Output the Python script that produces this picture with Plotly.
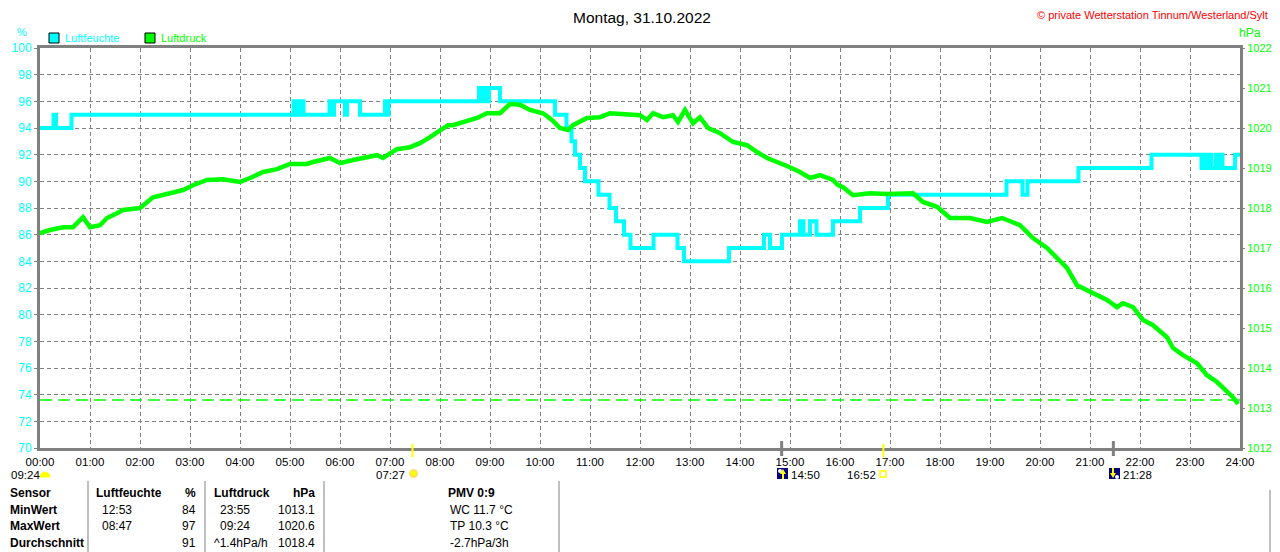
import plotly.graph_objects as go

# the page body keeps an 8px margin, so the figure is drawn 8px smaller and shifted
OFF = 8
W, H = 1280 - OFF, 552 - OFF

# humidity (%), step series: hour of change -> value
hum_t = [0.00, 0.27, 0.32, 0.63, 5.07, 5.12, 5.15, 5.20, 5.24, 5.27, 5.79, 5.84, 5.88,
         6.10, 6.14, 6.40, 6.90, 6.93, 6.97, 8.78, 8.82, 8.86, 8.94, 8.98, 9.20, 10.30,
         10.53, 10.63, 10.70, 10.80, 10.90, 11.17, 11.39, 11.52, 11.68, 11.81, 12.27,
         12.75, 12.88, 13.78, 14.48, 14.60, 14.84, 15.20, 15.27, 15.40, 15.53, 15.86,
         16.40, 16.96, 19.33, 19.65, 19.75, 20.77, 22.23, 23.23, 23.28, 23.32, 23.40,
         23.43, 23.52, 23.57, 23.62, 23.65, 23.90, 24.00]
hum_v = [94, 95, 94, 95, 96, 95, 96, 95, 96, 95, 96, 95, 96,
         95, 96, 95, 96, 95, 96, 97, 96, 97, 96, 97, 96, 95,
         94, 93, 92, 91, 90, 89, 88, 87, 86, 85, 86,
         85, 84, 85, 86, 85, 86, 87, 86, 87, 86, 87,
         88, 89, 90, 89, 90, 91, 92, 91, 92, 91, 92,
         91, 92, 91, 92, 91, 92, 92]

# pressure (hPa)
prs_t = [0.00, 0.20, 0.46, 0.66, 0.86, 1.00, 1.20, 1.34, 1.54, 1.66, 2.00, 2.26, 2.60,
         2.86, 3.06, 3.34, 3.66, 4.00, 4.20, 4.46, 4.74, 5.00, 5.34, 5.46, 5.80, 6.00,
         6.26, 6.74, 6.86, 7.14, 7.40, 7.60, 7.80, 8.00, 8.16, 8.26, 8.46, 8.74, 8.94,
         9.20, 9.40, 9.60, 9.80, 10.06, 10.24, 10.40, 10.56, 10.66, 10.94, 11.20, 11.40,
         11.74, 12.00, 12.14, 12.26, 12.46, 12.66, 12.76, 12.90, 13.06, 13.20, 13.36,
         13.60, 13.86, 14.14, 14.34, 14.54, 14.94, 15.20, 15.40, 15.60, 15.86, 15.96,
         16.06, 16.26, 16.60, 16.94, 17.46, 17.66, 17.94, 18.20, 18.60, 18.94, 19.24,
         19.60, 19.86, 20.14, 20.34, 20.54, 20.74, 21.06, 21.34, 21.54, 21.66, 21.86,
         22.06, 22.26, 22.54, 22.66, 22.86, 23.14, 23.34, 23.54, 23.70, 23.86, 23.96]
prs_v = [1017.37, 1017.45, 1017.52, 1017.52, 1017.77, 1017.52, 1017.57, 1017.75, 1017.87,
         1017.95, 1018.00, 1018.27, 1018.37, 1018.45, 1018.57, 1018.70, 1018.72, 1018.65,
         1018.75, 1018.90, 1018.97, 1019.10, 1019.10, 1019.15, 1019.25, 1019.12, 1019.20,
         1019.32, 1019.25, 1019.47, 1019.52, 1019.62, 1019.77, 1019.95, 1020.07, 1020.07,
         1020.15, 1020.25, 1020.37, 1020.37, 1020.60, 1020.58, 1020.45, 1020.37, 1020.20,
         1020.00, 1019.95, 1020.07, 1020.25, 1020.27, 1020.37, 1020.35, 1020.32, 1020.20,
         1020.37, 1020.27, 1020.32, 1020.15, 1020.45, 1020.12, 1020.27, 1020.00, 1019.87,
         1019.65, 1019.57, 1019.40, 1019.25, 1019.05, 1018.90, 1018.75, 1018.82, 1018.70,
         1018.57, 1018.52, 1018.32, 1018.37, 1018.35, 1018.37, 1018.15, 1018.03, 1017.75,
         1017.75, 1017.65, 1017.75, 1017.57, 1017.25, 1017.00, 1016.75, 1016.50, 1016.07,
         1015.87, 1015.70, 1015.52, 1015.62, 1015.52, 1015.20, 1015.07, 1014.77, 1014.50,
         1014.32, 1014.12, 1013.82, 1013.65, 1013.45, 1013.27, 1013.10]
prs_ref = [1013.2]

hours = list(range(25))
hour_labels = ["%02d:00" % h for h in hours]

sun_times = [7.45, 16.867]      # 07:27, 16:52
moon_times = [14.833, 21.467]   # 14:50, 21:28

table_rows = ["Sensor", "MinWert", "MaxWert", "Durchschnitt"]
hum_time = ["", "12:53", "08:47", ""]
hum_val = ["%", "84", "97", "91"]
prs_time = ["", "23:55", "09:24", "^1.4hPa/h"]
prs_val = ["hPa", "1013.1", "1020.6", "1018.4"]
extra = ["PMV 0:9", "WC 11.7 °C", "TP 10.3 °C", "-2.7hPa/3h"]

CYAN = "#00FFFF"
GREEN = "#00FF00"
GRAY = "#808080"
FONT = "Liberation Sans, Arial, sans-serif"


def px(x):
    return (x - OFF) / W


def py(y):
    return 1 - (y - OFF) / H


fig = go.Figure()
fig.add_trace(go.Scatter(x=hum_t, y=hum_v, mode="lines", line=dict(color=CYAN, width=4, shape="hv"),
                         yaxis="y", showlegend=False, hoverinfo="skip"))
fig.add_trace(go.Scatter(x=[0, 24], y=prs_ref * 2, mode="lines",
                         line=dict(color=GREEN, width=1.5, dash="12px,6px"),
                         yaxis="y2", showlegend=False, hoverinfo="skip"))
fig.add_trace(go.Scatter(x=prs_t, y=prs_v, mode="lines", line=dict(color=GREEN, width=4.5),
                         yaxis="y2", showlegend=False, hoverinfo="skip"))

shapes = []
anns = []

def text(x, y, s, color="black", size=12, anchor="left", bold=False):
    anns.append(dict(x=px(x), y=py(y), xref="paper", yref="paper", text=("<b>%s</b>" % s) if bold else s,
                     showarrow=False, xanchor=anchor, yanchor="middle",
                     font=dict(family=FONT, size=size, color=color)))

# header texts
text(642, 17, "Montag, 31.10.2022", size=15.5, anchor="center")
text(1270, 15, "© private Wetterstation Tinnum/Westerland/Sylt", color="#FF0000", size=11, anchor="right")
text(22, 32, "%", color=CYAN, size=11, anchor="center")
text(1250, 33, "hPa", color=GREEN, size=12, anchor="center")

# legend
for x0, col, lab in [(49, CYAN, "Luftfeuchte"), (145, GREEN, "Luftdruck")]:
    shapes.append(dict(type="rect", xref="paper", yref="paper", x0=px(x0), x1=px(x0 + 10),
                       y0=py(43), y1=py(33), fillcolor=col, line=dict(color="black", width=1)))
    text(x0 + 14, 38, lab, color=col, size=11)

# sun / moon ticks on time axis
for t in sun_times:
    shapes.append(dict(type="line", xref="x", yref="paper", x0=t, x1=t, y0=py(444), y1=py(457),
                       line=dict(color="#FFFF00", width=2)))
for t in moon_times:
    shapes.append(dict(type="line", xref="x", yref="paper", x0=t, x1=t, y0=py(441), y1=py(456),
                       line=dict(color=GRAY, width=3)))

SUB_Y = 475
# day length with half sun
text(9, SUB_Y, "09:24", size=11.5)
shapes.append(dict(type="path", xref="paper", yref="paper", fillcolor="#FFFF00", line=dict(color="#FFFF00", width=1),
                   path="M %f,%f C %f,%f %f,%f %f,%f Z" % (px(40), py(477), px(40), py(470.5),
                                                         px(50), py(470.5), px(50), py(477))))
# sunrise
text(407, SUB_Y, "07:27", size=11.5, anchor="right")
shapes.append(dict(type="circle", xref="paper", yref="paper", x0=px(410), x1=px(417), y0=py(477), y1=py(470),
                   fillcolor="#FFFF00", line=dict(color="#FFE060", width=2)))
# sunset
text(878, SUB_Y, "16:52", size=11.5, anchor="right")
shapes.append(dict(type="rect", xref="paper", yref="paper", x0=px(880), x1=px(886), y0=py(477), y1=py(471),
                   fillcolor="white", line=dict(color="#FFFF00", width=1.5)))
# moon rise / set
for x0, lab, up in [(777, "14:50", True), (1109, "21:28", False)]:
    shapes.append(dict(type="rect", xref="paper", yref="paper", x0=px(x0), x1=px(x0 + 11), y0=py(479), y1=py(468),
                       fillcolor="#000080", line=dict(width=0)))
    shapes.append(dict(type="circle", xref="paper", yref="paper",
                       x0=px(x0 + (1 if up else 6)), x1=px(x0 + (5 if up else 10)),
                       y0=py(473 if up else 479), y1=py(469 if up else 475),
                       fillcolor="white", line=dict(width=0)))
    ax = x0 + 6 if up else x0 + 4
    if up:
        p = "M %f,%f L %f,%f L %f,%f Z" % (px(ax - 3), py(474), px(ax + 3), py(474), px(ax), py(469))
        shapes.append(dict(type="line", xref="paper", yref="paper", x0=px(ax), x1=px(ax), y0=py(474), y1=py(479),
                           line=dict(color="#FFFF00", width=2)))
    else:
        p = "M %f,%f L %f,%f L %f,%f Z" % (px(ax - 3), py(473), px(ax + 3), py(473), px(ax), py(478))
        shapes.append(dict(type="line", xref="paper", yref="paper", x0=px(ax), x1=px(ax), y0=py(468), y1=py(473),
                           line=dict(color="#FFFF00", width=2)))
    shapes.append(dict(type="path", xref="paper", yref="paper", path=p, fillcolor="#FFFF00", line=dict(width=0)))
    text(x0 + 12, SUB_Y, lab, size=11.5)

# table
for xs in [88, 205, 324, 559]:
    shapes.append(dict(type="line", xref="paper", yref="paper", x0=px(xs), x1=px(xs), y0=py(481), y1=0,
                       line=dict(color=GRAY, width=1)))
shapes.append(dict(type="line", xref="paper", yref="paper", x0=px(1270), x1=px(1270), y0=py(490), y1=0,
                   line=dict(color=GRAY, width=1)))
row_y = [493, 510, 526, 543]
text(94, row_y[0], "Luftfeuchte", bold=True)
text(212, row_y[0], "Luftdruck", bold=True)
for i, yy in enumerate(row_y):
    text(8, yy, table_rows[i], bold=True)
    head = i == 0
    if hum_time[i]:
        text(212 if i == 3 else 100, yy, hum_time[i])
    text(198, yy, hum_val[i], anchor="right", bold=head)
    if prs_time[i]:
        text(212 if i == 3 else 218, yy, prs_time[i])
    text(317, yy, prs_val[i], anchor="right", bold=head)
    if head:
        text(472, yy, extra[i], anchor="center", bold=True)
    else:
        text(448, yy, extra[i])

fig.update_layout(
    width=W, height=H, margin=dict(l=0, r=0, t=0, b=0, autoexpand=False),
    paper_bgcolor="white", plot_bgcolor="white",
    font=dict(family=FONT, size=12, color="black"),
    shapes=shapes, annotations=anns,
    xaxis=dict(domain=[px(40), px(1240)], range=[0, 24], tickmode="array", tickvals=hours, ticktext=hour_labels,
               showgrid=True, gridcolor=GRAY, griddash="4px,3px", gridwidth=1, zeroline=False,
               showline=True, linecolor=GRAY, linewidth=3, mirror=True, ticks="", automargin=False,
               ticklabelstandoff=1, tickfont=dict(size=11.5, color="black"), fixedrange=True),
    yaxis=dict(domain=[py(448), py(48)], range=[70, 100], dtick=2, tick0=70, automargin=False,
               showgrid=True, gridcolor=GRAY, griddash="4px,3px", gridwidth=1, zeroline=False,
               showline=True, linecolor=GRAY, linewidth=3, mirror=True,
               ticks="outside", ticklen=3, tickcolor=GRAY, tickfont=dict(size=12, color=CYAN)),
    yaxis2=dict(overlaying="y", side="right", range=[1012, 1022], dtick=1, tick0=1012, automargin=False,
                showgrid=False, zeroline=False, showline=False,
                ticks="outside", ticklen=4, tickcolor=GRAY, tickfont=dict(size=11, color=GREEN)),
)

fig.write_html("out.html")
